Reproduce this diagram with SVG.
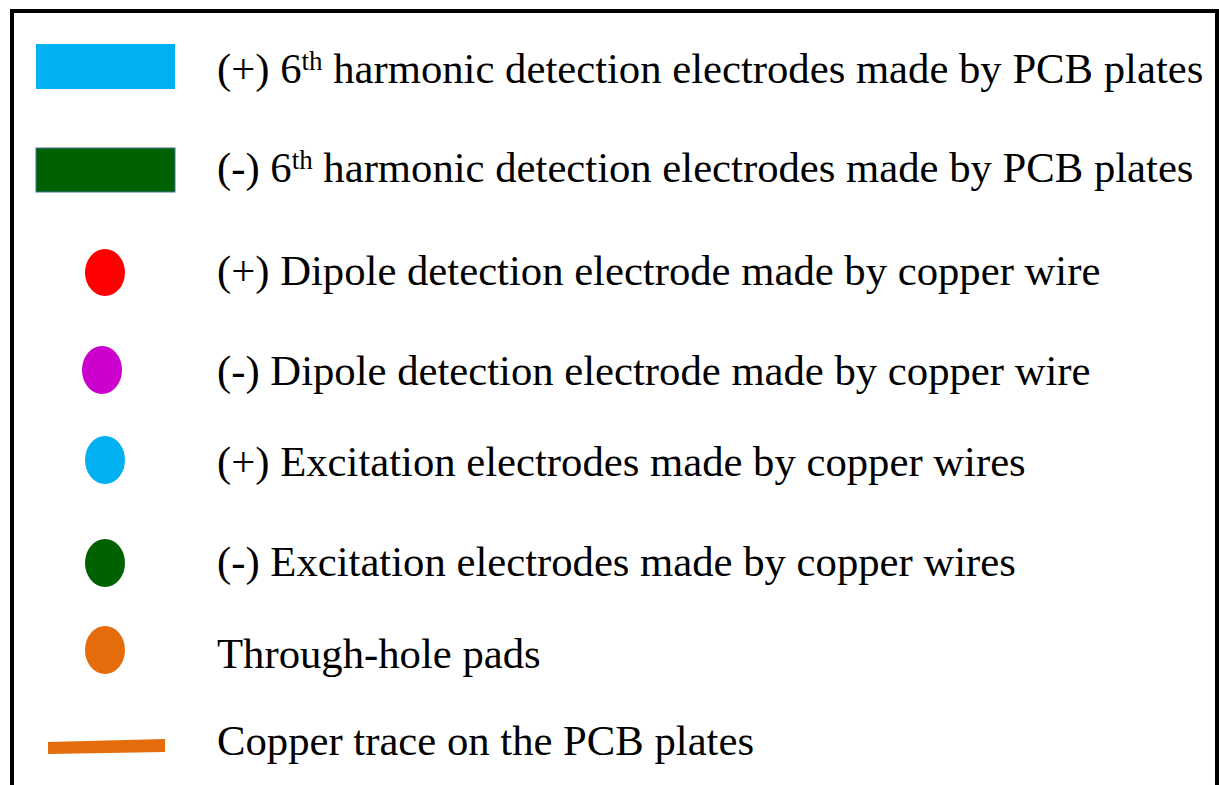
<svg xmlns="http://www.w3.org/2000/svg" width="1219" height="785" viewBox="0 0 1219 785">
<style>
text{font-family:"Liberation Serif","Times New Roman",serif;font-size:42.7px;fill:#000}
.sup{font-size:27px}
</style>
<rect width="1219" height="785" fill="#fff"/>
<g id="frame"><path d="M12,785 V11 H1217 V785" fill="none" stroke="#000" stroke-width="4"/></g>
<g id="item1"><rect x="36" y="44" width="139" height="45" fill="#00B0F0"/>
<text x="217" y="83">(+) 6<tspan class="sup" dy="-13">th</tspan><tspan dy="13"> harmonic detection electrodes made by PCB plates</tspan></text></g>
<g id="item2"><rect x="36" y="148" width="139" height="44" fill="#006100" stroke="#41719C" stroke-width="1"/>
<text x="217" y="182">(-) 6<tspan class="sup" dy="-13">th</tspan><tspan dy="13"> harmonic detection electrodes made by PCB plates</tspan></text></g>
<g id="item3"><ellipse cx="105" cy="272.5" rx="20" ry="23.5" fill="#FF0000"/>
<text x="217" y="285">(+) Dipole detection electrode made by copper wire</text></g>
<g id="item4"><ellipse cx="102" cy="370" rx="20" ry="24" fill="#CC00CC"/>
<text x="217" y="385">(-) Dipole detection electrode made by copper wire</text></g>
<g id="item5"><ellipse cx="105" cy="460" rx="20" ry="24" fill="#00B0F0"/>
<text x="217" y="476">(+) Excitation electrodes made by copper wires</text></g>
<g id="item6"><ellipse cx="105" cy="563" rx="20" ry="24" fill="#006100"/>
<text x="217" y="576">(-) Excitation electrodes made by copper wires</text></g>
<g id="item7"><ellipse cx="105" cy="650" rx="20" ry="24" fill="#E46C0A"/>
<text x="217" y="668">Through-hole pads</text></g>
<g id="item8"><polygon points="48,742 165,739 165,752 48,754" fill="#E46C0A"/>
<text x="217" y="755">Copper trace on the PCB plates</text></g>
</svg>
